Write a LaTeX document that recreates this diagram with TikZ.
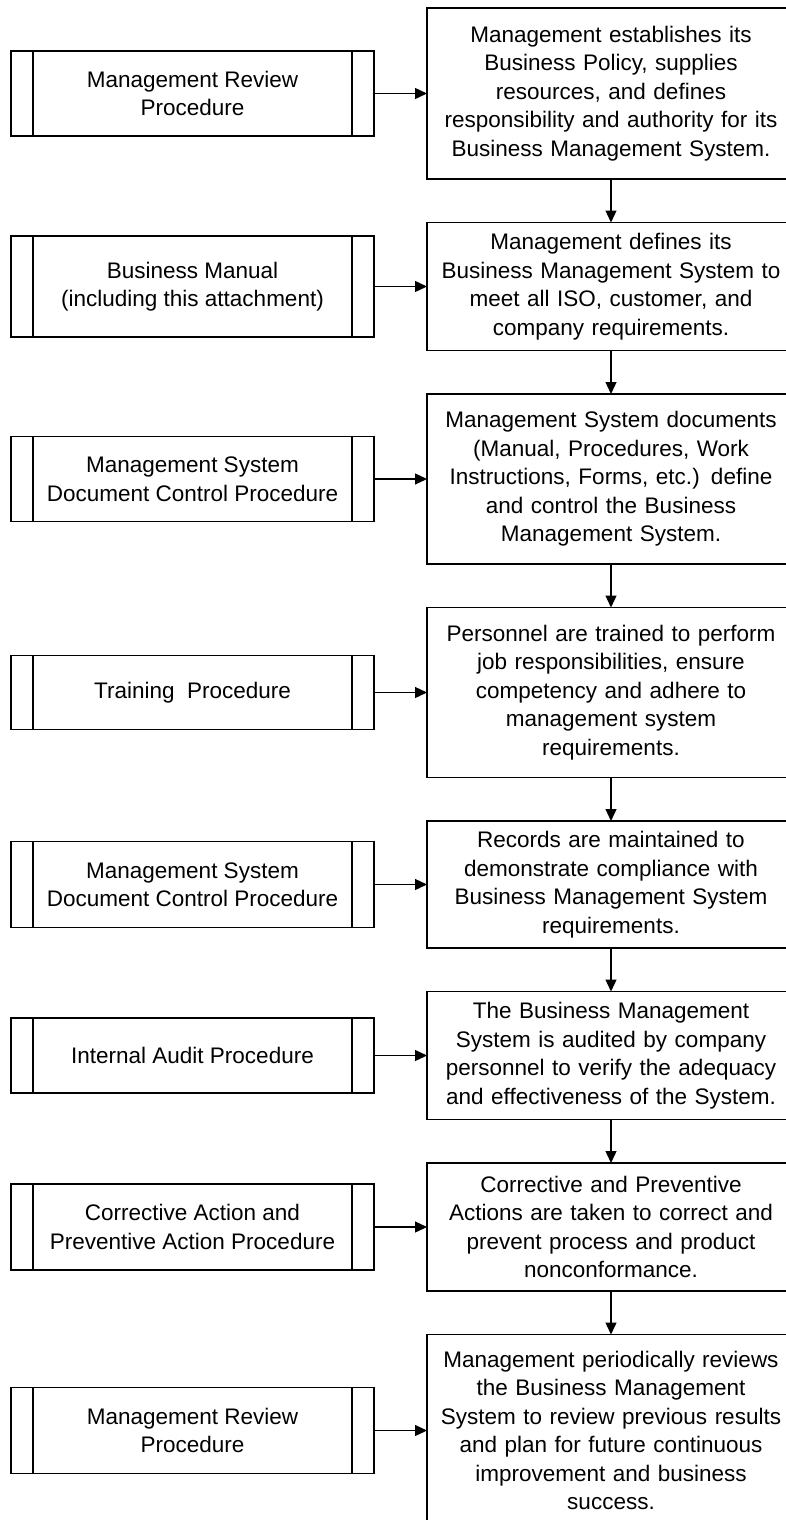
\documentclass[tikz,border=0pt]{standalone}
\usepackage{fontspec}
\setmainfont{Liberation Sans}
\usetikzlibrary{positioning,arrows.meta}
\tikzstyle{stage}=[rectangle,fill=white,draw=black,line width=1.3pt,minimum width=368pt,text width=360pt,align=center,inner sep=0pt,outer sep=0pt]
\tikzstyle{proc}=[rectangle,fill=white,draw=black,line width=1.3pt,minimum width=363pt,align=center,inner sep=0pt,outer sep=0pt,
  path picture={\draw[line width=1.3pt] ([xshift=22pt]path picture bounding box.north west) -- ([xshift=22pt]path picture bounding box.south west)
    ([xshift=-22pt]path picture bounding box.north east) -- ([xshift=-22pt]path picture bounding box.south east);}]
\tikzstyle{mypath}=[-{Triangle[length=12pt,width=11pt]},line width=1.3pt]
\def\stagedist{43.5pt}
\def\procdist{53pt}

\begin{document}
\begin{tikzpicture}[x=1pt,y=-1pt,font=\fontsize{22.5}{28.5}\selectfont]
	\useasboundingbox (0,0) rectangle (785,1520);

	% stages
	\node[stage,minimum height=171pt] (s1) at (611,93.5) {Management establishes its\\ Business Policy, supplies\\ resources, and defines\\ responsibility and authority for its\\ Business Management System.};
	\node[stage,minimum height=128pt,below=\stagedist of s1] (s2) {Management defines its\\ Business Management System to\\ meet all ISO, customer, and\\ company requirements.};
	\node[stage,minimum height=170pt,below=\stagedist of s2] (s3) {Management System documents\\ (Manual, Procedures, Work\\ Instructions, Forms, etc.) define\\ and control the Business\\ Management System.};
	\node[stage,minimum height=170pt,below=\stagedist of s3] (s4) {Personnel are trained to perform\\ job responsibilities, ensure\\ competency and adhere to\\ management system\\ requirements.};
	\node[stage,minimum height=127pt,below=\stagedist of s4] (s5) {Records are maintained to\\ demonstrate compliance with\\ Business Management System\\ requirements.};
	\node[stage,minimum height=128pt,below=\stagedist of s5] (s6) {The Business Management\\ System is audited by company\\ personnel to verify the adequacy\\ and effectiveness of the System.};
	\node[stage,minimum height=128pt,below=\stagedist of s6] (s7) {Corrective and Preventive\\ Actions are taken to correct and\\ prevent process and product\\ nonconformance.};
	\node[stage,minimum height=192pt,below=\stagedist of s7] (s8) {Management periodically reviews\\ the Business Management\\ System to review previous results\\ and plan for future continuous\\ improvement and business\\ success.};

	% procedures
	\node[proc,minimum height=85pt,left=\procdist of s1] (p1) {Management Review\\ Procedure};
	\node[proc,minimum height=101pt,left=\procdist of s2] (p2) {Business Manual\\ (including this attachment)};
	\node[proc,minimum height=85pt,left=\procdist of s3] (p3) {Management System\\ Document Control Procedure};
	\node[proc,minimum height=74pt,left=\procdist of s4] (p4) {Training\ \ Procedure};
	\node[proc,minimum height=86pt,left=\procdist of s5] (p5) {Management System\\ Document Control Procedure};
	\node[proc,minimum height=75pt,left=\procdist of s6] (p6) {Internal Audit Procedure};
	\node[proc,minimum height=86pt,left=\procdist of s7] (p7) {Corrective Action and\\ Preventive Action Procedure};
	\node[proc,minimum height=86pt,left=\procdist of s8] (p8) {Management Review\\ Procedure};

	% Connections
	\draw[mypath] (p1) -- (s1);
	\draw[mypath] (p2) -- (s2);
	\draw[mypath] (p3) -- (s3);
	\draw[mypath] (p4) -- (s4);
	\draw[mypath] (p5) -- (s5);
	\draw[mypath] (p6) -- (s6);
	\draw[mypath] (p7) -- (s7);
	\draw[mypath] (p8) -- (s8);
	\draw[mypath] (s1) -- (s2);
	\draw[mypath] (s2) -- (s3);
	\draw[mypath] (s3) -- (s4);
	\draw[mypath] (s4) -- (s5);
	\draw[mypath] (s5) -- (s6);
	\draw[mypath] (s6) -- (s7);
	\draw[mypath] (s7) -- (s8);
\end{tikzpicture}
\end{document}
